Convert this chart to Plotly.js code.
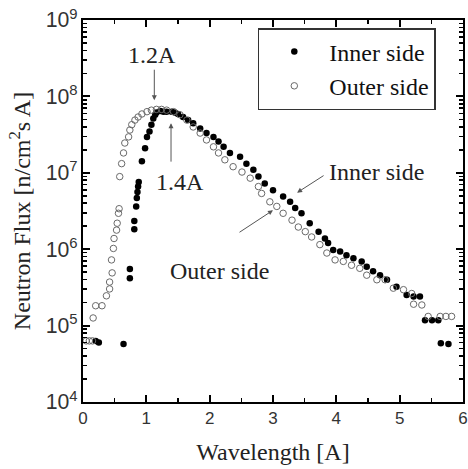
<!DOCTYPE html>
<html><head><meta charset="utf-8">
<script src="https://cdn.plot.ly/plotly-3.0.1.min.js"></script>
<style>body{margin:0;background:#fff}#g{width:468px;height:469px}</style>
</head><body><div id="g"></div>
<script>
// Wavelength [A] and log10(flux)
var innerX = [0.20,0.25,0.64,0.74,0.74,0.81,0.81,0.84,0.85,0.86,0.87,0.88,0.93,0.98,1.01,1.05,1.08,1.11,1.14,1.16,1.22,1.27,1.32,1.40,1.45,1.50,1.58,1.66,1.74,1.85,1.95,2.06,2.14,2.22,2.32,2.48,2.58,2.69,2.77,2.87,3.00,3.16,3.27,3.35,3.45,3.58,3.72,3.82,3.87,3.95,4.06,4.16,4.27,4.40,4.48,4.58,4.69,4.80,4.95,5.11,5.22,5.32,5.40,5.51,5.61,5.65,5.77];
var innerLog = [4.80,4.78,4.76,5.62,5.74,6.26,6.37,6.56,6.67,6.75,6.82,6.88,7.15,7.32,7.47,7.54,7.63,7.71,7.76,7.79,7.81,7.80,7.80,7.80,7.79,7.77,7.73,7.69,7.65,7.58,7.52,7.47,7.41,7.34,7.26,7.21,7.12,7.04,6.95,6.86,6.77,6.69,6.62,6.54,6.47,6.34,6.23,6.14,6.08,5.99,5.97,5.92,5.88,5.84,5.77,5.71,5.66,5.60,5.51,5.40,5.38,5.38,5.07,5.07,5.07,4.77,4.76];
var outerX = [0.05,0.10,0.15,0.16,0.20,0.30,0.37,0.42,0.42,0.45,0.46,0.48,0.49,0.53,0.54,0.56,0.57,0.58,0.61,0.64,0.66,0.72,0.74,0.77,0.82,0.87,0.93,1.01,1.08,1.16,1.24,1.32,1.43,1.53,1.64,1.74,1.85,1.95,2.06,2.14,2.24,2.37,2.51,2.64,2.77,2.82,2.95,3.06,3.16,3.30,3.40,3.51,3.61,3.74,3.85,3.98,4.11,4.24,4.37,4.48,4.64,4.77,4.90,5.06,5.19,5.22,5.35,5.45,5.64,5.73,5.82];
var outerLog = [4.80,4.80,4.80,5.10,5.26,5.26,5.39,5.48,5.57,5.86,5.69,6.01,6.14,6.25,6.34,6.47,6.53,6.95,7.12,7.26,7.39,7.47,7.56,7.63,7.69,7.73,7.77,7.80,7.82,7.83,7.83,7.82,7.80,7.76,7.69,7.60,7.52,7.43,7.34,7.26,7.17,7.08,7.01,6.93,6.82,6.73,6.62,6.56,6.47,6.38,6.29,6.23,6.16,6.06,5.95,5.86,5.84,5.79,5.75,5.66,5.60,5.60,5.49,5.47,5.42,5.28,5.27,5.12,5.12,5.12,5.12];
var seriesNames = ['Inner side','Outer side'];
var xTicks = [0,1,2,3,4,5,6];

function pow(a){return a.map(function(v){return Math.pow(10,v);});}
var serif = "Liberation Serif";
var sans = "Liberation Sans";
var tf = {family:serif, size:24, color:'#222'};

var traces = [
 {x: innerX, y: pow(innerLog), name: seriesNames[0], mode:'markers', type:'scatter',
  marker:{symbol:'circle', size:6.5, color:'#000', line:{width:0}}},
 {x: outerX, y: pow(outerLog), name: seriesNames[1], mode:'markers', type:'scatter',
  marker:{symbol:'circle-open', size:6.5, color:'#6a6a6a', line:{width:1, color:'#6a6a6a'}}}
];

function arrow(x, ly, ax, ay){
  return {x:x, y:ly, xref:'x', yref:'y', ax:ax, ay:ay, text:'', showarrow:true,
    arrowhead:2, arrowsize:1, arrowwidth:1, arrowcolor:'#555'};
}
function label(x, ly, t){
  return {x:x, y:ly, xref:'x', yref:'y', text:t, showarrow:false, font:tf,
    xanchor:'center', yanchor:'middle'};
}

var layout = {
 width:468, height:469,
 font:{family:serif},
 margin:{l:83, r:5, t:20, b:67},
 paper_bgcolor:'#fff', plot_bgcolor:'#fff',
 showlegend:true,
 legend:{x:0.46, y:0.979, xanchor:'left', yanchor:'top', bordercolor:'#333', borderwidth:1.5,
   bgcolor:'#fff', font:{family:serif, size:24, color:'#111'}, itemwidth:60, tracegroupgap:0,
   entrywidth:190, entrywidthmode:'pixels'},
 xaxis:{range:[0,6], tickvals:xTicks, ticks:'inside', ticklen:7, tickwidth:2, tickcolor:'#000',
   mirror:'ticks', showline:true, linewidth:2, linecolor:'#000', showgrid:false, zeroline:false,
   minor:{dtick:0.5, ticks:'inside', ticklen:4, tickwidth:1.5, tickcolor:'#000'},
   tickfont:{family:sans, size:17, color:'#333'},
   title:{text:'Wavelength [A]', font:tf, standoff:16}},
 yaxis:{type:'log', range:[4,9], dtick:1, exponentformat:'power', ticks:'inside', ticklen:7, tickwidth:2,
   tickcolor:'#000', mirror:'ticks', showline:true, linewidth:2, linecolor:'#000', showgrid:false, zeroline:false,
   minor:{dtick:'D1', ticks:'inside', ticklen:4, tickwidth:1.5, tickcolor:'#000'},
   tickfont:{family:sans, size:17, color:'#333'},
   title:{text:'Neutron Flux [n/cm<sup>2</sup>s A]', font:tf, standoff:8}},
 annotations:[
  arrow(1.126, 7.95, 0, -32), label(1.09, 8.54, '1.2A'),
  arrow(1.39, 7.65, 0, 40),   label(1.53, 6.88, '1.4A'),
  arrow(3.38, 6.74, 28, -18), label(4.64, 7.01, 'Inner side'),
  arrow(3.0, 6.51, -35, 23),  label(2.16, 5.71, 'Outer side')
 ]
};
Plotly.newPlot('g', traces, layout, {displayModeBar:false, staticPlot:true});
</script></body></html>
